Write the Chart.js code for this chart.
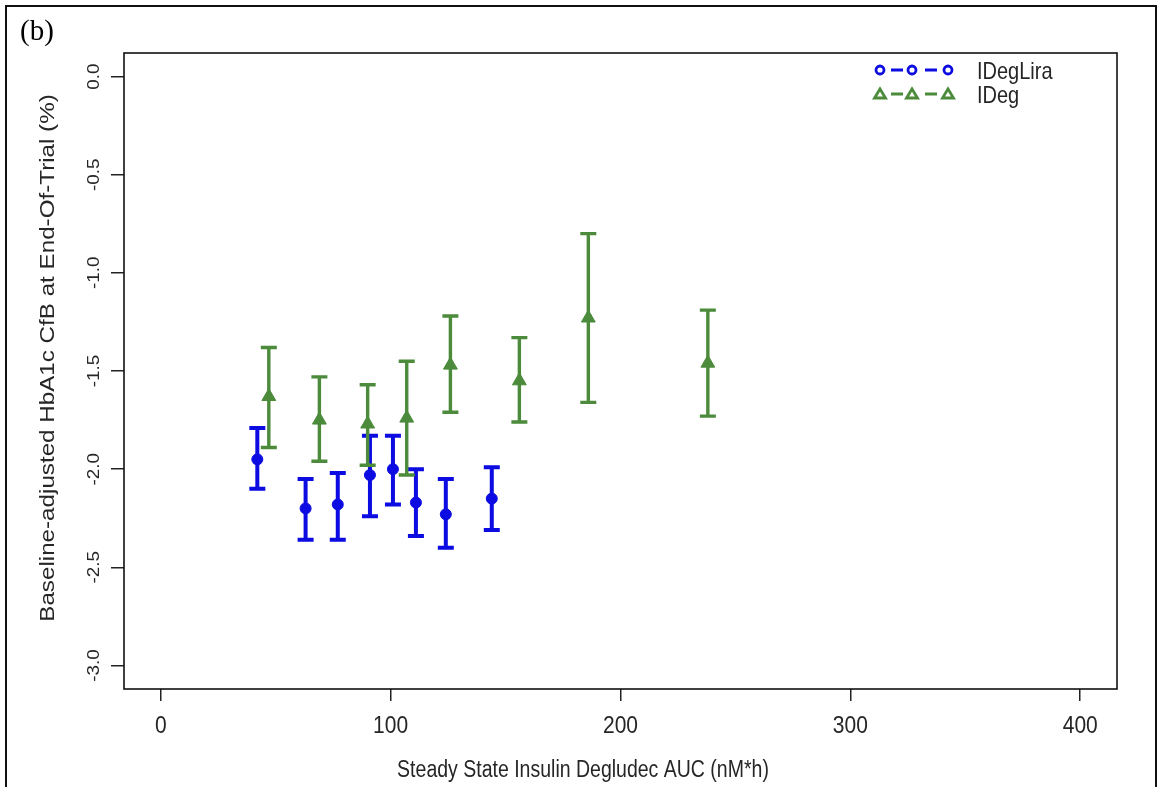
<!DOCTYPE html>
<html lang="en">
<head>
<meta charset="UTF-8">
<title>HbA1c change vs insulin degludec exposure</title>
<script src="https://cdn.jsdelivr.net/npm/chart.js"></script>
<style>
  html, body { margin: 0; padding: 0; background: #fff; }
  #wrap { width: 1159px; height: 787px; }
</style>
</head>
<body>
<div id="wrap"><canvas id="aucChart" width="1159" height="787"></canvas></div>
<script>
// IDegLira arm: AUC bin means, HbA1c change and 95% CI
const ideglira_auc  = [42, 63, 77, 91, 101, 111, 124, 144];
const ideglira_mean = [-1.95, -2.20, -2.18, -2.03, -2.00, -2.17, -2.23, -2.15];
const ideglira_hi   = [-1.79, -2.05, -2.02, -1.83, -1.83, -2.00, -2.05, -1.99];
const ideglira_lo   = [-2.10, -2.36, -2.36, -2.24, -2.18, -2.34, -2.40, -2.31];

// IDeg arm
const ideg_auc  = [47, 69, 90, 107, 126, 156, 186, 238];
const ideg_mean = [-1.63, -1.75, -1.77, -1.74, -1.47, -1.55, -1.23, -1.46];
const ideg_hi   = [-1.38, -1.53, -1.57, -1.45, -1.22, -1.33, -0.80, -1.19];
const ideg_lo   = [-1.89, -1.96, -1.98, -2.03, -1.71, -1.76, -1.66, -1.73];

const xTicks = [0, 100, 200, 300, 400];
const yTicks = [0, -0.5, -1.0, -1.5, -2.0, -2.5, -3.0];

const BLUE = '#0b0be2';
const GREEN = '#4b8b3b';
const INK = '#262626';
const SANS = "'Liberation Sans', Arial, sans-serif";
const STRETCH = 1.18;   // text is a little taller than wide

function points(xs, ys, his, los) {
  return xs.map((v, i) => ({ x: v, y: ys[i], hi: his[i], lo: los[i] }));
}

// text helper: vertical stretch applied before rotation
function putText(ctx, txt, x, y, angle, size, align) {
  ctx.save();
  ctx.translate(x, y);
  ctx.scale(1, STRETCH);
  ctx.rotate(angle);
  ctx.font = size + 'px ' + SANS;
  ctx.fillStyle = INK;
  ctx.textAlign = align || 'center';
  ctx.textBaseline = 'middle';
  ctx.fillText(txt, 0, 0);
  ctx.restore();
}

// vertical CI bars with caps, behind the markers
const errorBars = {
  id: 'errorBars',
  beforeDatasetsDraw(chart) {
    const { ctx, scales: { x, y } } = chart;
    chart.data.datasets.forEach(ds => {
      ctx.save();
      ctx.strokeStyle = ds.borderColor;
      ctx.lineWidth = ds.barWidth;
      ds.data.forEach(p => {
        const px = x.getPixelForValue(p.x);
        const top = y.getPixelForValue(p.hi);
        const bot = y.getPixelForValue(p.lo);
        ctx.beginPath();
        ctx.moveTo(px, top); ctx.lineTo(px, bot);
        ctx.moveTo(px - 8, top); ctx.lineTo(px + 8, top);
        ctx.moveTo(px - 8, bot); ctx.lineTo(px + 8, bot);
        ctx.stroke();
      });
      ctx.restore();
    });
  }
};

// box, outer frame, panel letter, tick labels, titles and legend
const decorations = {
  id: 'decorations',
  afterDraw(chart) {
    const { ctx, chartArea: a, scales: { x, y } } = chart;
    ctx.save();
    ctx.strokeStyle = '#111';
    ctx.lineWidth = 1.6;
    ctx.strokeRect(a.left, a.top, a.right - a.left, a.bottom - a.top);
    ctx.lineWidth = 2;
    ctx.strokeRect(6, 6, 1150, 820);

    ctx.fillStyle = '#000';
    ctx.font = "29px 'Liberation Serif', 'Times New Roman', serif";
    ctx.textBaseline = 'alphabetic';
    ctx.textAlign = 'left';
    ctx.fillText('(b)', 20, 40);
    ctx.restore();

    xTicks.forEach(v => {
      putText(ctx, String(v), x.getPixelForValue(v), 726, 0, 21);
    });
    yTicks.forEach(v => {
      putText(ctx, v.toFixed(1), 95, y.getPixelForValue(v), -Math.PI / 2, 16);
    });
    putText(ctx, 'Baseline-adjusted HbA1c CfB at End-Of-Trial (%)', 48, 358, -Math.PI / 2, 20.5);
    putText(ctx, 'Steady State Insulin Degludec AUC (nM*h)', 583, 771, 0, 19.5);

    // legend: marker - marker - marker, then label
    const rows = [
      { ds: chart.data.datasets[0], yy: 70 },
      { ds: chart.data.datasets[1], yy: 94 }
    ];
    const mx = [880, 912, 948];
    rows.forEach(r => {
      ctx.save();
      ctx.strokeStyle = r.ds.borderColor;
      ctx.lineWidth = 2.8;
      ctx.beginPath();
      ctx.moveTo(891, r.yy); ctx.lineTo(903, r.yy);
      ctx.moveTo(925, r.yy); ctx.lineTo(937, r.yy);
      ctx.stroke();
      mx.forEach(px => {
        ctx.beginPath();
        if (r.ds.pointStyle === 'circle') {
          ctx.arc(px, r.yy, 4, 0, Math.PI * 2);
        } else {
          ctx.moveTo(px, r.yy - 5);
          ctx.lineTo(px + 5.5, r.yy + 4);
          ctx.lineTo(px - 5.5, r.yy + 4);
          ctx.closePath();
        }
        ctx.stroke();
      });
      ctx.restore();
      putText(ctx, r.ds.label, 977, r.yy + 2, 0, 20, 'left');
    });
  }
};

new Chart(document.getElementById('aucChart'), {
  type: 'scatter',
  data: {
    datasets: [
      {
        label: 'IDegLira',
        data: points(ideglira_auc, ideglira_mean, ideglira_hi, ideglira_lo),
        pointStyle: 'circle',
        pointRadius: 5.5,
        backgroundColor: BLUE,
        borderColor: BLUE,
        borderWidth: 1,
        barWidth: 4
      },
      {
        label: 'IDeg',
        data: points(ideg_auc, ideg_mean, ideg_hi, ideg_lo),
        pointStyle: 'triangle',
        pointRadius: 8,
        backgroundColor: GREEN,
        borderColor: GREEN,
        borderWidth: 1,
        barWidth: 3.4
      }
    ]
  },
  options: {
    responsive: false,
    animation: false,
    layout: { padding: { left: 0, top: 53, right: 42, bottom: 0 } },
    plugins: { legend: { display: false }, tooltip: { enabled: false } },
    scales: {
      x: {
        type: 'linear',
        min: -16,
        max: 416,
        afterBuildTicks: s => { s.ticks = xTicks.map(v => ({ value: v })); },
        afterFit: s => { s.height = 98; },
        border: { display: false },
        grid: { drawOnChartArea: false, drawTicks: true, tickLength: 12, color: '#222', lineWidth: 1.5 },
        ticks: { display: false }
      },
      y: {
        type: 'linear',
        min: -3.12,
        max: 0.12,
        afterBuildTicks: s => { s.ticks = yTicks.map(v => ({ value: v })); },
        afterFit: s => { s.width = 124; },
        border: { display: false },
        grid: { drawOnChartArea: false, drawTicks: true, tickLength: 13, color: '#222', lineWidth: 1.5 },
        ticks: { display: false }
      }
    }
  },
  plugins: [errorBars, decorations]
});
</script>
</body>
</html>
